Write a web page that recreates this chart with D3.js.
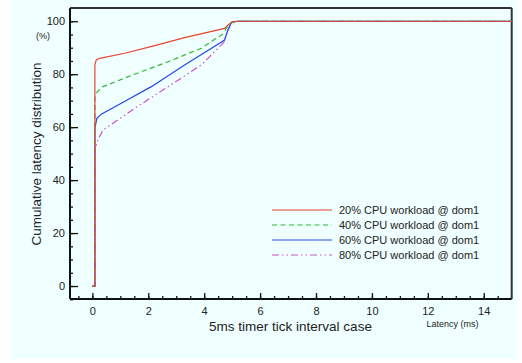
<!DOCTYPE html>
<html><head><meta charset="utf-8">
<script src="https://cdn.jsdelivr.net/npm/d3@7"></script>
<style>body{margin:0;background:#fff}svg{display:block;font-family:"Liberation Sans",Arial,sans-serif}</style>
</head><body><svg id="c" width="522" height="363"></svg>
<script>
const seriesNames = ["20% CPU workload @ dom1","40% CPU workload @ dom1","60% CPU workload @ dom1","80% CPU workload @ dom1"];
const xTicks = [0,2,4,6,8,10,12,14];
const yTicks = [0,20,40,60,80,100];
const s20x = [0,0.09,0.09,0.14,0.26,1.16,2.23,3.30,4.73,4.85,5.03,5.2,15];
const s20y = [0,0,83.5,85.4,86.0,87.9,90.8,93.8,97.3,98.6,99.9,100,100];
const s40x = [0,0.09,0.09,0.18,0.38,1.51,2.71,3.90,4.67,4.80,5.0,5.2,15];
const s40y = [0,0,71.0,73.4,75.3,80.0,84.7,89.8,95.2,97.5,99.6,100,100];
const s60x = [0,0.09,0.09,0.16,0.32,1.1,2.11,3.30,4.26,4.73,4.83,4.97,5.2,15];
const s60y = [0,0,59.5,63.3,64.9,69.4,75.3,83.5,89.8,92.9,96.1,99.6,100,100];
const s80x = [0,0.09,0.09,0.2,0.38,1.51,2.71,3.90,4.73,4.78,4.96,5.25,15];
const s80y = [0,0,51.5,55.2,58.9,67.1,75.3,83.5,92.3,94.8,99.3,100,100];
const colors = ["#e8452e","#2fb82f","#2446e6","#cf4fcf"];
const dashes = [null,"5,3.5",null,"7,3,1.5,3,1.5,3"];

const svg = d3.select("#c");
svg.append("rect").attr("x",10).attr("y",0).attr("width",508).attr("height",359).attr("fill","#f0ffff");

const L=70,R=511.7,T=8,B=299;
const x = d3.scaleLinear().domain([-0.8,15]).range([L,R]);
const y = d3.scaleLinear().domain([-4.9,105]).range([B,T]);

svg.append("line").attr("x1",L).attr("x2",R).attr("y1",T).attr("y2",T).attr("stroke","#333").attr("stroke-width",2);
svg.append("line").attr("x1",R).attr("x2",R).attr("y1",T).attr("y2",B).attr("stroke","#333").attr("stroke-width",2);

const data = [[s20x,s20y],[s40x,s40y],[s60x,s60y],[s80x,s80y]].map(([xs,ys])=>xs.map((v,i)=>[v,ys[i]]));
const line = d3.line().x(d=>x(d[0])).y(d=>y(d[1]));
const g = svg.append("g");
[3,2,1,0].forEach(i=>{
  g.append("path").attr("d",line(data[i])).attr("fill","none").attr("stroke",colors[i]).attr("stroke-width",1.2)
   .attr("stroke-dasharray",dashes[i]);
});

const xa = svg.append("g").attr("transform",`translate(0,${B})`);
xa.call(d3.axisBottom(x).tickValues(d3.range(-0.5,15,0.5)).tickSize(-3).tickFormat(""))
  .call(a=>a.select(".domain").remove());
xa.append("g").call(d3.axisBottom(x).tickValues(xTicks).tickSize(-6).tickFormat(d3.format("d")))
  .call(a=>a.select(".domain").remove())
  .call(a=>a.selectAll("text").attr("y",8).attr("font-size",11).attr("fill","#222").attr("font-family","Liberation Sans, Arial, sans-serif"));
xa.selectAll("line").attr("stroke","#111").attr("stroke-width",1.3);
svg.append("line").attr("x1",L).attr("x2",R).attr("y1",B).attr("y2",B).attr("stroke","#111").attr("stroke-width",2);

const ya = svg.append("g").attr("transform",`translate(${L},0)`);
ya.call(d3.axisLeft(y).tickValues(d3.range(-5,105,5)).tickSize(-3).tickFormat(""))
  .call(a=>a.select(".domain").remove());
ya.append("g").call(d3.axisLeft(y).tickValues(yTicks).tickSize(-8).tickFormat(d3.format("d")))
  .call(a=>a.select(".domain").remove())
  .call(a=>a.selectAll("text").attr("x",-5).attr("font-size",11).attr("fill","#222").attr("font-family","Liberation Sans, Arial, sans-serif"));
ya.selectAll("line").attr("stroke","#111").attr("stroke-width",1.3);
svg.append("line").attr("x1",L).attr("x2",L).attr("y1",T).attr("y2",B).attr("stroke","#111").attr("stroke-width",2);

svg.append("text").attr("x",43).attr("y",39).attr("text-anchor","middle").attr("font-size",9).attr("fill","#222").text("(%)");
svg.append("text").attr("transform","translate(41,154) rotate(-90)").attr("text-anchor","middle").attr("font-size",13.5).attr("fill","#222").text("Cumulative latency distribution");
svg.append("text").attr("x",290.5).attr("y",331).attr("text-anchor","middle").attr("font-size",13.5).attr("fill","#222").text("5ms timer tick interval case");
svg.append("text").attr("x",452.5).attr("y",327).attr("text-anchor","middle").attr("font-size",9).attr("fill","#222").text("Latency (ms)");

const lg = svg.append("g");
seriesNames.forEach((n,i)=>{
  const yy = 210 + i*15;
  lg.append("line").attr("x1",272).attr("x2",332).attr("y1",yy).attr("y2",yy).attr("stroke",colors[i]).attr("stroke-width",1.2)
    .attr("stroke-dasharray",dashes[i]);
  lg.append("text").attr("x",339).attr("y",yy+4).attr("font-size",11).attr("fill","#222").text(n);
});
</script></body></html>
